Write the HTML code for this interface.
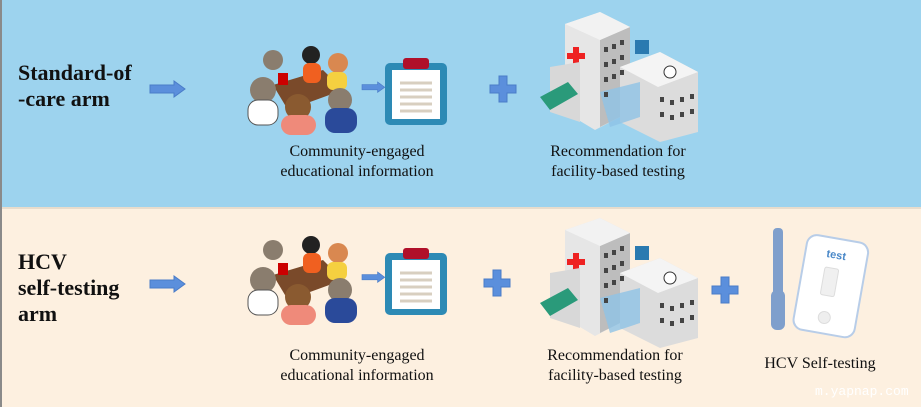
<!DOCTYPE html>
<html><head><style>
body{margin:0;width:921px;height:407px;overflow:hidden;background:#fdf0e0;font-family:"Liberation Serif",serif}
.t{position:absolute;font-size:16px;color:#111;text-align:center;line-height:20px}
.h{position:absolute;font-weight:bold;font-size:22px;color:#111;line-height:26px}
</style></head><body>
<svg width="921" height="407" style="position:absolute;left:0;top:0">
<defs>
<g id="arrow"><polygon points="0,4 24,4 24,0 35,8 24,16 24,12 0,12" fill="#5b8fdc" stroke="#4a7cc8"/></g>
<g id="plus"><path d="M9,0h8v9h9v8h-9v9h-8v-9h-9v-8h9z" fill="#5b8fdc" stroke="#4a7cc8"/></g>
<g id="people">
<polygon points="30,40 80,25 100,45 45,65" fill="#7a4a2a"/>
<rect x="35" y="28" width="10" height="12" fill="#c00"/>
<circle cx="30" cy="15" r="10" fill="#8a7d6e"/><circle cx="68" cy="10" r="9" fill="#222"/><rect x="60" y="18" width="18" height="20" rx="6" fill="#f06020"/>
<circle cx="95" cy="18" r="10" fill="#d98850"/><rect x="84" y="27" width="20" height="18" rx="6" fill="#f5d040"/>
<circle cx="20" cy="45" r="13" fill="#8a7d6e"/><rect x="5" y="55" width="30" height="25" rx="10" fill="#fff" stroke="#555"/>
<circle cx="55" cy="62" r="13" fill="#8a5a30"/><rect x="38" y="70" width="35" height="20" rx="10" fill="#ef8a7a"/>
<circle cx="97" cy="55" r="12" fill="#8a7d6e"/><rect x="82" y="63" width="32" height="25" rx="10" fill="#2a4a9a"/>
</g>
<g id="clip"><rect x="0" y="5" width="62" height="62" rx="5" fill="#2d8ab5"/><rect x="7" y="12" width="48" height="49" fill="#fff"/><rect x="18" y="0" width="26" height="11" rx="3" fill="#b0102a"/>
<g stroke="#d8cfc0" stroke-width="3"><line x1="15" y1="25" x2="47" y2="25"/><line x1="15" y1="32" x2="47" y2="32"/><line x1="15" y1="39" x2="47" y2="39"/><line x1="15" y1="46" x2="47" y2="46"/><line x1="15" y1="53" x2="47" y2="53"/></g></g>
<g id="hosp">
<polygon points="25,12 60,0 90,15 90,100 55,118 25,100" fill="#e6e6e6"/>
<polygon points="60,28 90,15 90,100 60,115" fill="#bdbdbd"/>
<polygon points="25,12 60,0 90,15 60,28" fill="#f2f2f2"/>
<rect x="33" y="35" width="6" height="18" fill="#e22"/><rect x="27" y="41" width="18" height="6" fill="#e22"/>
<polygon points="80,55 120,40 158,60 158,120 120,130 80,110" fill="#dcdcdc"/>
<polygon points="80,55 120,40 158,60 118,75" fill="#f4f4f4"/>
<circle cx="130" cy="60" r="6" fill="#fff" stroke="#333"/>
<polygon points="10,55 40,50 40,110 10,100" fill="#d8d8d8"/>
<polygon points="0,85 28,70 38,82 10,98" fill="#2a9a7a"/>
<polygon points="60,80 100,70 100,105 70,115" fill="#8ec3e6" opacity=".8"/>
<rect x="95" y="28" width="14" height="14" fill="#2a7ab0"/>
<g fill="#444"><rect x="64" y="35" width="4" height="5"/><rect x="72" y="32" width="4" height="5"/><rect x="80" y="28" width="4" height="5"/><rect x="64" y="50" width="4" height="5"/><rect x="72" y="47" width="4" height="5"/><rect x="80" y="43" width="4" height="5"/><rect x="64" y="65" width="4" height="5"/><rect x="72" y="62" width="4" height="5"/><rect x="80" y="58" width="4" height="5"/><rect x="64" y="80" width="4" height="5"/><rect x="120" y="85" width="4" height="5"/><rect x="130" y="88" width="4" height="5"/><rect x="140" y="85" width="4" height="5"/><rect x="150" y="82" width="4" height="5"/><rect x="120" y="100" width="4" height="5"/><rect x="130" y="103" width="4" height="5"/><rect x="140" y="100" width="4" height="5"/><rect x="150" y="97" width="4" height="5"/></g>
</g>
</defs>
<rect x="0" y="0" width="921" height="207" fill="#9dd3ee"/>
<rect x="0" y="207" width="921" height="2" fill="#e8dccc"/>
<rect x="0" y="0" width="2" height="407" fill="#8a8a8a"/>
<use href="#arrow" x="150" y="81"/>
<use href="#people" x="243" y="45"/>
<use href="#arrow" x="362" y="82" transform="translate(362,82) scale(.65) translate(-362,-82)"/>
<use href="#clip" x="385" y="58"/>
<use href="#plus" x="490" y="76"/>
<use href="#hosp" x="540" y="12"/>
<use href="#arrow" x="150" y="276"/>
<use href="#people" x="243" y="235"/>
<use href="#arrow" x="362" y="272" transform="translate(362,272) scale(.65) translate(-362,-272)"/>
<use href="#clip" x="385" y="248"/>
<use href="#plus" x="484" y="270"/>
<use href="#hosp" x="540" y="218"/>
<use href="#plus" x="712" y="277"/>
<rect x="773" y="228" width="10" height="75" rx="4" fill="#7f9fcc"/>
<rect x="771" y="290" width="14" height="40" rx="6" fill="#7f9fcc"/>
<g transform="rotate(10 830 285)"><rect x="800" y="238" width="62" height="96" rx="10" fill="#fff" stroke="#b8cde8" stroke-width="2"/>
<text x="831" y="258" font-family="Liberation Sans,sans-serif" font-size="11" font-weight="bold" fill="#4a88c8" text-anchor="middle">test</text>
<rect x="822" y="268" width="14" height="28" rx="2" fill="#f0f0f0" stroke="#ddd"/><circle cx="830" cy="318" r="6" fill="#eee" stroke="#ddd"/></g>
</svg>
<div class="h" style="left:18px;top:60px">Standard-of<br>-care arm</div>
<div class="h" style="left:18px;top:249px">HCV<br>self-testing<br>arm</div>
<div class="t" style="left:257px;top:142px;width:200px">Community-engaged<br>educational information</div>
<div class="t" style="left:518px;top:142px;width:200px">Recommendation for<br>facility-based testing</div>
<div class="t" style="left:257px;top:346px;width:200px">Community-engaged<br>educational information</div>
<div class="t" style="left:515px;top:346px;width:200px">Recommendation for<br>facility-based testing</div>
<div class="t" style="left:740px;top:354px;width:160px">HCV Self-testing</div>
<div style="position:absolute;left:815px;top:384px;font-family:'Liberation Mono',monospace;font-size:13px;color:#fff">m.yapnap.com</div>
</body></html>
